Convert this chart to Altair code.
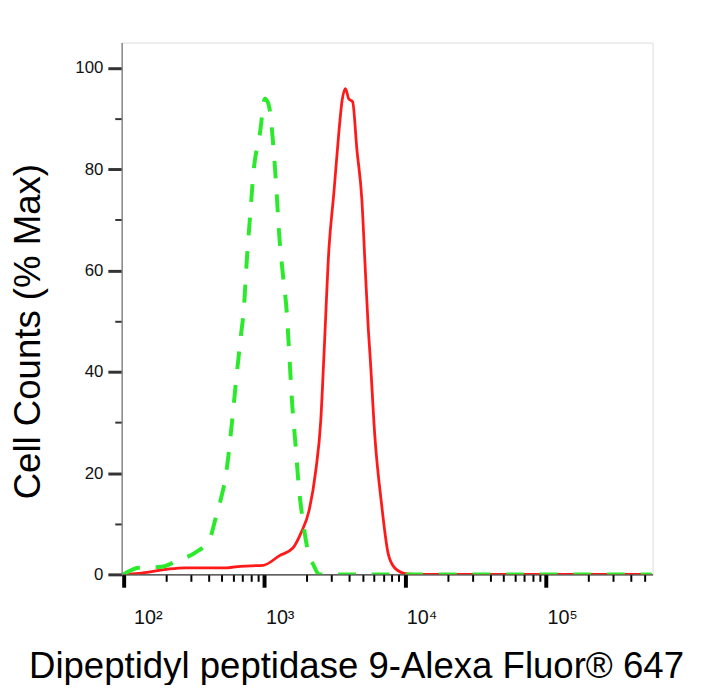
import altair as alt
import pandas as pd

# Red solid histogram (stained sample)
red_x = [100, 128, 201, 271, 544, 674, 982, 1282, 1592, 1820, 2080, 2317, 2512,
         2649, 2871, 3113, 3374, 3564, 3760, 3966, 4229, 4538, 4919, 5187, 5470,
         5620, 6093, 6780, 7550, 8400, 9860, 11580, 560000]
red_y = [0, 0.2, 1.0, 1.3, 1.3, 1.6, 1.8, 3.7, 5.2, 8.2, 12.7, 20.5, 30.3,
         43.4, 64.2, 75.3, 87.1, 93.6, 95.9, 93.9, 93.3, 83.8, 74.0, 61.0, 48.3,
         43.4, 27.0, 14.0, 4.2, 1.3, 0.2, 0, 0]

# Green dashed histogram (control)
green_x = [100, 128, 186, 237, 327, 405, 451, 489, 530, 590, 622, 682, 712, 751,
           792, 836, 930, 1008, 1064, 1092, 1153, 1217, 1270, 1355, 1446, 1493,
           1575, 1661, 1754, 1871, 2028, 2255, 2443, 560000]
green_y = [0, 1.3, 1.5, 2.6, 4.4, 6.7, 11.1, 14.7, 19.2, 30.3, 36.8, 47.3, 51.9, 62.3,
           70.8, 79.3, 87.1, 93.9, 93.0, 91.6, 85.1, 76.0, 67.5, 59.0, 51.2, 44.7,
           33.6, 25.8, 17.3, 10.8, 4.9, 1.6, 0, 0]

x_ticks = [100, 200, 300, 400, 500, 600, 700, 800, 900,
           1000, 2000, 3000, 4000, 5000, 6000, 7000, 8000, 9000,
           10000, 20000, 30000, 40000, 50000, 60000, 70000, 80000, 90000,
           100000, 200000, 300000, 400000, 500000]
x_major = [100, 1000, 10000, 100000]
x_major_labels = ["10²", "10³", "10⁴", "10⁵"]

y_ticks = [0, 5, 10, 15, 20, 25, 30, 35, 40, 45, 50, 55, 60, 65, 70, 75, 80, 85, 90, 95, 100]

red_df = pd.DataFrame({"x": red_x, "y": red_y})
green_df = pd.DataFrame({"x": green_x, "y": green_y})

FONT = "Liberation Sans"

major_test_x = "indexof([" + ",".join(str(v) for v in x_major) + "], datum.value) >= 0"
label_expr_x = " : ".join(
    f"datum.value == {v} ? '{l}'" for v, l in zip(x_major, x_major_labels)
) + " : ''"
major_test_y = "datum.value % 20 == 0"

x_enc = alt.X(
    "x:Q",
    scale=alt.Scale(type="log", domain=[97, 570000], nice=False),
    axis=alt.Axis(
        values=x_ticks,
        labelExpr=label_expr_x,
        labelAlign="left",
        labelBaseline="alphabetic",
        labelOffset={"condition": {"test": "datum.value == 100", "value": 10}, "value": 1},
        labelPadding=37,
        labelFontSize=20,
        labelFont=FONT,
        labelColor="#111111",
        labelOverlap=False,
        labelBound=False,
        labelFlush=False,
        tickSize={"condition": {"test": major_test_x, "value": 13}, "value": 7},
        tickWidth={"condition": {"test": major_test_x, "value": 4}, "value": 2},
        tickColor="#000000",
        domainColor="#333333",
        domainWidth=1.5,
        grid=False,
        title="Dipeptidyl peptidase 9-Alexa Fluor® 647",
        titleFont=FONT,
        titleFontSize=37,
        titleFontWeight="normal",
        titleColor="#000000",
        titleX=237,
        titleY=104,
        titleBaseline="alphabetic",
        titleAlign="center",
    ),
)

y_enc = alt.Y(
    "y:Q",
    scale=alt.Scale(domain=[0, 105], nice=False),
    axis=alt.Axis(
        values=y_ticks,
        labelExpr="datum.value % 20 == 0 ? datum.value : ''",
        labelFontSize=17,
        labelFont=FONT,
        labelColor="#111111",
        labelPadding=5,
        labelOverlap=False,
        tickSize={"condition": {"test": major_test_y, "value": 14}, "value": 7},
        tickWidth={"condition": {"test": major_test_y, "value": 3}, "value": 2},
        tickColor="#333333",
        domainColor="#888888",
        domainWidth=1.5,
        grid=False,
        title="Cell Counts (% Max)",
        titleFont=FONT,
        titleFontSize=37,
        titleFontWeight="normal",
        titleColor="#000000",
        titleAngle=270,
        titleX=-94,
        titleY=292,
        titleBaseline="middle",
        titleAlign="center",
    ),
)

red_line = alt.Chart(red_df).mark_line(
    color="#ff1a1a", strokeWidth=2.8, interpolate="monotone", clip=True
).encode(x=x_enc, y=y_enc, order=alt.Order("x:Q"))

green_line = alt.Chart(green_df).mark_line(
    color="#2bea2b", strokeWidth=4, strokeDash=[18, 16], interpolate="monotone", clip=True
).encode(x=alt.X("x:Q"), y=alt.Y("y:Q"), order=alt.Order("x:Q"))

chart = alt.layer(red_line, green_line).properties(
    width=537,
    height=538,
    autosize="none",
    padding={"left": 115, "top": 31, "right": 50, "bottom": 108},
).configure_view(
    stroke="#8a8a8a", strokeWidth=1.5
).configure(background="white")

chart.save("out.html", embed_options={"renderer": "svg", "actions": False})
